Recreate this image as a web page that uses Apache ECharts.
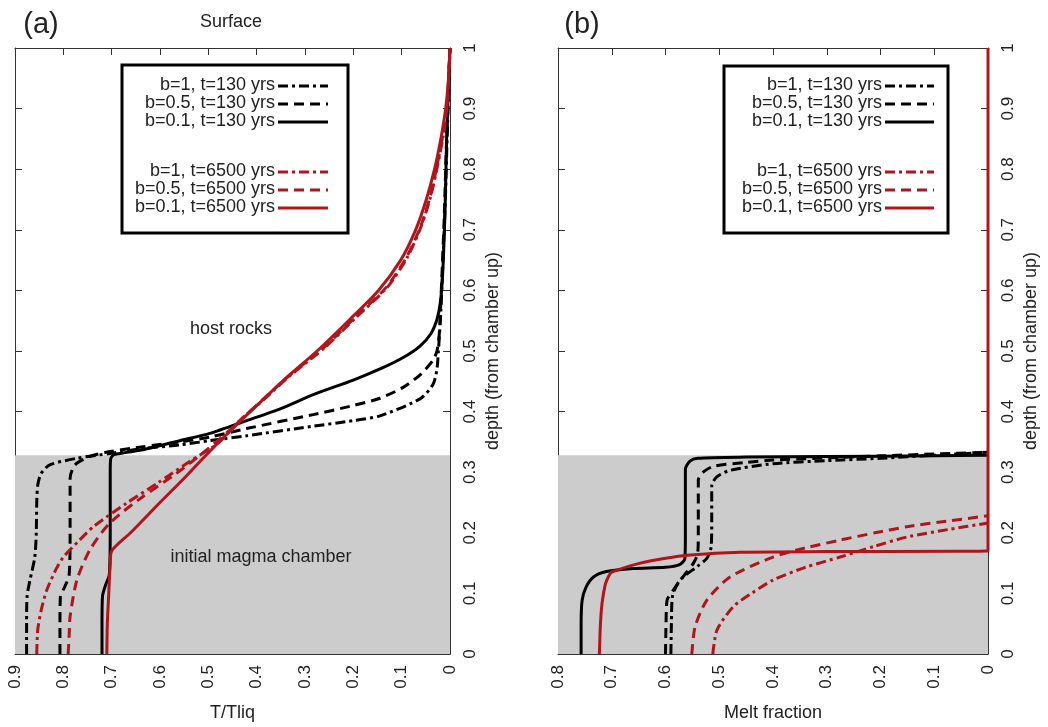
<!DOCTYPE html>
<html>
<head>
<meta charset="utf-8">
<script src="https://cdn.jsdelivr.net/npm/echarts@6/dist/echarts.min.js"></script>
<style>
html,body{margin:0;padding:0;background:#fff;}
#chart{width:1048px;height:727px;}
</style>
</head>
<body>
<div id="chart"></div>
<script>
// ---------- DATA ----------
// Panel (a): [T/Tliq, depth]
const a_b1_130 = [[0.876,0],[0.876,0.05],[0.875,0.095],[0.869,0.122],[0.859,0.16],[0.856,0.2],[0.855,0.25],[0.853,0.278],[0.846,0.298],[0.828,0.312],[0.772,0.323],[0.703,0.331],[0.635,0.339],[0.559,0.345],[0.497,0.352],[0.421,0.36],[0.283,0.376],[0.2,0.385],[0.145,0.393],[0.062,0.421],[0.035,0.445],[0.027,0.47],[0.024,0.5],[0.02,0.55],[0.016,0.62],[0.01,0.74],[0.006,0.85],[0,1]];
const a_b05_130 = [[0.807,0],[0.807,0.05],[0.806,0.095],[0.797,0.111],[0.788,0.13],[0.786,0.2],[0.786,0.29],[0.776,0.312],[0.745,0.326],[0.703,0.334],[0.635,0.342],[0.559,0.35],[0.497,0.358],[0.421,0.372],[0.283,0.395],[0.2,0.41],[0.145,0.422],[0.097,0.44],[0.06,0.462],[0.035,0.485],[0.027,0.5],[0.022,0.53],[0.018,0.6],[0.012,0.72],[0.007,0.85],[0,1]];
const a_b01_130 = [[0.72,0],[0.72,0.05],[0.719,0.095],[0.712,0.115],[0.705,0.13],[0.703,0.2],[0.703,0.3],[0.702,0.322],[0.695,0.329],[0.635,0.337],[0.559,0.352],[0.497,0.364],[0.421,0.385],[0.35,0.405],[0.283,0.428],[0.2,0.452],[0.14,0.472],[0.095,0.49],[0.062,0.508],[0.04,0.528],[0.027,0.552],[0.02,0.58],[0.015,0.63],[0.01,0.74],[0.007,0.85],[0,1]];
const a_b1_6500 = [[0.855,0],[0.853,0.04],[0.845,0.075],[0.834,0.106],[0.815,0.14],[0.80,0.16],[0.77,0.185],[0.738,0.21],[0.669,0.249],[0.605,0.282],[0.54,0.317],[0.48,0.348],[0.434,0.386],[0.385,0.42],[0.33,0.46],[0.26,0.505],[0.195,0.555],[0.13,0.605],[0.088,0.655],[0.06,0.705],[0.04,0.755],[0.026,0.805],[0.014,0.855],[0.006,0.905],[0,1]];
const a_b05_6500 = [[0.79,0],[0.788,0.03],[0.786,0.062],[0.772,0.122],[0.745,0.172],[0.704,0.216],[0.635,0.26],[0.566,0.298],[0.503,0.337],[0.455,0.37],[0.434,0.386],[0.387,0.42],[0.332,0.46],[0.262,0.505],[0.197,0.555],[0.132,0.605],[0.09,0.655],[0.061,0.705],[0.041,0.755],[0.027,0.805],[0.015,0.855],[0.006,0.905],[0,1]];
const a_b01_6500 = [[0.71,0],[0.709,0.05],[0.706,0.1],[0.703,0.15],[0.70,0.17],[0.661,0.2],[0.60,0.25],[0.55,0.29],[0.505,0.328],[0.455,0.368],[0.40,0.41],[0.34,0.455],[0.275,0.5],[0.21,0.55],[0.148,0.6],[0.102,0.65],[0.071,0.7],[0.049,0.75],[0.032,0.8],[0.019,0.85],[0.009,0.9],[0.003,0.95],[0,1]];

// Panel (b): [melt fraction, depth]
const b_b1_130 = [[0.59,0],[0.589,0.05],[0.587,0.095],[0.573,0.122],[0.54,0.145],[0.523,0.158],[0.515,0.177],[0.514,0.22],[0.514,0.277],[0.505,0.292],[0.48,0.303],[0.4,0.314],[0.3,0.319],[0.2,0.323],[0.1,0.328],[0,0.333]];
const b_b05_130 = [[0.60,0],[0.599,0.05],[0.597,0.089],[0.585,0.106],[0.565,0.13],[0.548,0.15],[0.54,0.166],[0.539,0.2],[0.539,0.287],[0.53,0.3],[0.51,0.31],[0.45,0.316],[0.4,0.32],[0.2,0.327],[0.1,0.33],[0,0.333]];
const b_b01_130 = [[0.757,0],[0.757,0.05],[0.755,0.089],[0.748,0.11],[0.734,0.127],[0.71,0.136],[0.66,0.141],[0.6,0.143],[0.575,0.147],[0.564,0.157],[0.563,0.2],[0.563,0.305],[0.555,0.318],[0.54,0.323],[0.45,0.325],[0.3,0.326],[0.1,0.327],[0,0.328]];
const b_b1_6500 = [[0.512,0],[0.504,0.04],[0.474,0.078],[0.44,0.1],[0.4,0.122],[0.34,0.143],[0.275,0.16],[0.21,0.178],[0.151,0.193],[0.07,0.206],[0,0.216]];
const b_b05_6500 = [[0.551,0],[0.545,0.045],[0.523,0.089],[0.48,0.127],[0.4,0.16],[0.34,0.175],[0.275,0.188],[0.21,0.2],[0.151,0.21],[0.07,0.22],[0,0.228]];
const b_b01_6500 = [[0.723,0],[0.721,0.05],[0.718,0.084],[0.712,0.115],[0.706,0.128],[0.70,0.135],[0.647,0.15],[0.6,0.158],[0.56,0.163],[0.461,0.168],[0.3,0.169],[0,0.17],[0,1]];

const chamberTop = 0.328;
const legendLabels = ['b=1, t=130 yrs','b=0.5, t=130 yrs','b=0.1, t=130 yrs','b=1, t=6500 yrs','b=0.5, t=6500 yrs','b=0.1, t=6500 yrs'];
const xTitleA = 'T/Tliq', xTitleB = 'Melt fraction', yTitle = 'depth (from chamber up)';

// ---------- STYLE ----------
const RED = '#b3141c', BLACK = '#000';
const DASHDOT = [10,4,3,4], DASHED = [10,6];
const FONT = '"Liberation Sans", Arial, Helvetica, sans-serif';
const styles = [
  {color:BLACK, type:DASHDOT},{color:BLACK, type:DASHED},{color:BLACK, type:'solid'},
  {color:RED, type:DASHDOT},{color:RED, type:DASHED},{color:RED, type:'solid'}
];

function mkLine(data, st, xi, yi, z){
  return {type:'line', data:data, xAxisIndex:xi, yAxisIndex:yi, showSymbol:false, symbol:'none',
    smooth:0.25, clip:false, z:z, silent:true,
    lineStyle:{color:st.color, width:3, type:st.type, cap:'butt', join:'round'}};
}
function bgSeries(xi, yi, xmax){
  return {type:'line', data:[[xmax,0],[0,chamberTop]], xAxisIndex:xi, yAxisIndex:yi, symbol:'none',
    lineStyle:{opacity:0}, z:1, silent:true,
    markArea:{silent:true, itemStyle:{color:'#cccccc'}, data:[[{coord:[xmax,0]},{coord:[0,chamberTop]}]]}};
}

const axisLineStyle = {lineStyle:{color:'#333', width:1}};
function xAx(grid, max, pos, name){
  return {type:'value', gridIndex:grid, min:0, max:max, interval:0.1, inverse:true, position:pos,
    axisLine:{show:true, onZero:false, ...axisLineStyle},
    axisTick:{show:true, inside:true, length:7, lineStyle:{color:'#333'}},
    axisLabel:{show: pos==='bottom', rotate:90, fontSize:17, color:'#222', margin:11, fontFamily:FONT},
    splitLine:{show:false},
    name: name||'', nameLocation:'middle', nameGap:50,
    nameTextStyle:{fontSize:18, color:'#222', fontFamily:FONT}};
}
function yAx(grid, pos, name){
  return {type:'value', gridIndex:grid, min:0, max:1, interval:0.1, position:pos,
    axisLine:{show:true, onZero:false, ...axisLineStyle},
    axisTick:{show:true, inside:true, length:7, lineStyle:{color:'#333'}},
    axisLabel:{show: pos==='right', rotate:90, fontSize:17, color:'#222', margin:12, fontFamily:FONT},
    splitLine:{show:false},
    name: name||'', nameLocation:'middle', nameGap:34, nameRotate:90,
    nameTextStyle:{fontSize:18, color:'#222', fontFamily:FONT}};
}

function legendGraphics(boxX, boxY, boxW, boxH, textX, lineX1, lineX2, rows){
  const els = [{type:'rect', z:100, shape:{x:boxX, y:boxY, width:boxW, height:boxH},
    style:{fill:'#fff', stroke:'#000', lineWidth:3}}];
  legendLabels.forEach((t,i)=>{
    els.push({type:'text', z:101, style:{text:t, x:textX, y:rows[i], textAlign:'right', textVerticalAlign:'middle',
      font:'18px '+FONT, fill:'#222'}});
    const st = styles[i];
    els.push({type:'line', z:101, shape:{x1:lineX1, y1:rows[i]+1, x2:lineX2, y2:rows[i]+1},
      style:{stroke:st.color, lineWidth:3, lineDash: st.type==='solid'? null : st.type, lineCap:'butt'}});
  });
  return els;
}
const legendRows = [85,103,121,171,189,207];

const chart = echarts.init(document.getElementById('chart'), null, {renderer:'canvas'});
const option = {
  animation:false,
  backgroundColor:'#fff',
  grid:[{left:15, right:598, top:48, bottom:73}, {left:558, right:60, top:48, bottom:73}],
  xAxis:[xAx(0,0.9,'bottom',xTitleA), xAx(0,0.9,'top'), xAx(1,0.8,'bottom',xTitleB), xAx(1,0.8,'top')],
  yAxis:[yAx(0,'right',yTitle), yAx(0,'left'), yAx(1,'right',yTitle), yAx(1,'left')],
  series:[
    bgSeries(0,0,0.9), bgSeries(2,2,0.8),
    mkLine(a_b1_130, styles[0],0,0,5), mkLine(a_b05_130, styles[1],0,0,5), mkLine(a_b01_130, styles[2],0,0,5),
    mkLine(a_b1_6500, styles[3],0,0,6), mkLine(a_b05_6500, styles[4],0,0,6), mkLine(a_b01_6500, styles[5],0,0,6),
    mkLine(b_b1_130, styles[0],2,2,5), mkLine(b_b05_130, styles[1],2,2,5), mkLine(b_b01_130, styles[2],2,2,5),
    mkLine(b_b1_6500, styles[3],2,2,6), mkLine(b_b05_6500, styles[4],2,2,6), mkLine(b_b01_6500, styles[5],2,2,7)
  ],
  graphic:[
    {type:'text', z:50, style:{text:'(a)', x:41, y:25, textAlign:'center', textVerticalAlign:'middle', font:'29px '+FONT, fill:'#222'}},
    {type:'text', z:50, style:{text:'(b)', x:582, y:25, textAlign:'center', textVerticalAlign:'middle', font:'29px '+FONT, fill:'#222'}},
    {type:'text', z:50, style:{text:'Surface', x:231, y:22, textAlign:'center', textVerticalAlign:'middle', font:'18px '+FONT, fill:'#222'}},
    {type:'text', z:50, style:{text:'host rocks', x:231, y:329, textAlign:'center', textVerticalAlign:'middle', font:'18px '+FONT, fill:'#222'}},
    {type:'text', z:50, style:{text:'initial magma chamber', x:261, y:557, textAlign:'center', textVerticalAlign:'middle', font:'18px '+FONT, fill:'#222'}},
    ...legendGraphics(122,65,226,168,275,278,328,legendRows),
    ...legendGraphics(724,66,224,167,882,885,934,legendRows)
  ]
};
chart.setOption(option);
</script>
</body>
</html>
